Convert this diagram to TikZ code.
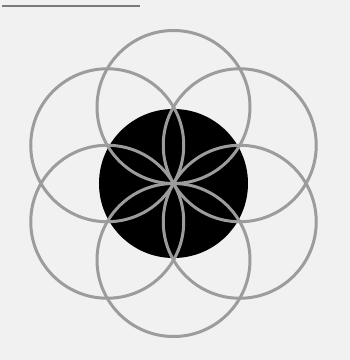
\documentclass[tikz,border=0pt]{standalone}
\usepackage{tikz}
\usetikzlibrary{calc}
\definecolor{mpaper}{HTML}{F1F1F1}
\definecolor{mring}{HTML}{9C9C9C}
\definecolor{medge}{HTML}{7A7A7A}
\tikzset{
  ring/.style={draw=mring, line width=3pt},
  core/.style={fill=black, draw=none},
}
\begin{document}
\begin{tikzpicture}[x=1pt, y=-1pt]
    \fill[mpaper] (0,0) rectangle (350,360);
    \useasboundingbox (0,0) rectangle (350,360);
    \draw[medge, line width=1.5pt] (2,6) -- (140,6);
    \coordinate (c) at (173.5,183.5);
    \fill[core] (c) circle (74.5);
    \foreach \a in {30,90,...,330}
      \draw[ring] ($(c)+(\a:76.5)$) circle (76.5);
  \end{tikzpicture}
\end{document}
